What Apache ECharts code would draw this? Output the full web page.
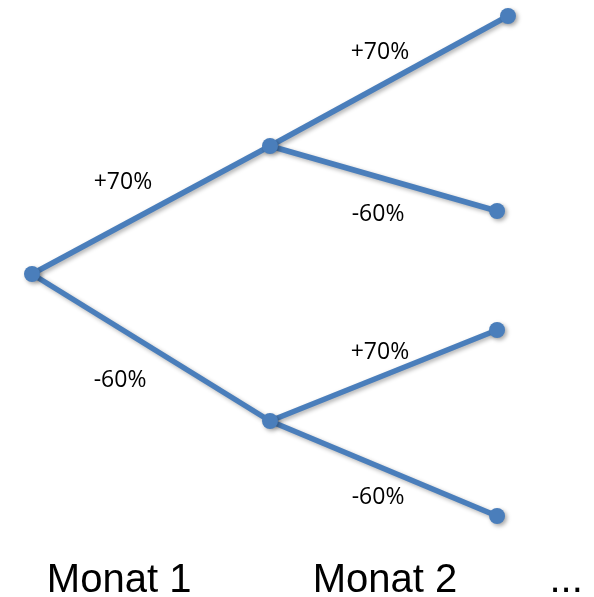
<!DOCTYPE html>
<html>
<head>
<meta charset="utf-8">
<script src="https://cdn.jsdelivr.net/npm/echarts@6/dist/echarts.min.js"></script>
<style>
  html, body { margin: 0; padding: 0; background: #fff; }
  #chart { width: 594px; height: 597px; }
</style>
</head>
<body>
<div id="chart"></div>
<script>
// tree nodes: [step, level]
const nodeNames = ['root', 'up', 'down', 'upup', 'updown', 'downup', 'downdown'];
const nodeSteps = [0, 1, 1, 2, 1.954, 1.954, 1.954];
const nodeLevels = [0, 1.28, -1.47, 2.58, 0.63, -0.56, -2.42];
const links = [['root', 'up'], ['root', 'down'], ['up', 'upup'], ['up', 'updown'], ['down', 'downup'], ['down', 'downdown']];

// branch labels
const branchTexts = ['+70%', '-60%', '+70%', '-60%', '+70%', '-60%'];
const branchSteps = [0.382, 0.37, 1.462, 1.454, 1.462, 1.454];
const branchLevels = [0.92, -1.06, 2.22, 0.60, -0.78, -2.23];

// bottom captions
const captions = ['Monat 1', 'Monat 2', '...'];
const captionSteps = [0.366, 1.483, 2.244];
const captionLevel = -3.07;

const blue = '#4a7ebb';

const chart = echarts.init(document.getElementById('chart'), null, { renderer: 'canvas' });

const textSeries = (texts, points, font, size) => ({
  type: 'scatter',
  symbolSize: 0,
  clip: false,
  silent: true,
  itemStyle: { color: '#000', opacity: 1 },
  label: {
    show: true,
    position: 'inside',
    formatter: p => texts[p.dataIndex],
    color: '#000',
    opacity: 1,
    textBorderWidth: 0,
    fontFamily: font,
    fontSize: size
  },
  data: points
});

chart.setOption({
  animation: false,
  grid: { left: 32, right: 86, top: 16, bottom: 81 },
  xAxis: { type: 'value', min: 0, max: 2, show: false },
  yAxis: { type: 'value', min: -2.42, max: 2.58, show: false },
  series: [
    {
      type: 'graph',
      coordinateSystem: 'cartesian2d',
      symbol: 'circle',
      symbolSize: 16,
      z: 2,
      itemStyle: {
        color: blue,
        shadowColor: 'rgba(0,0,0,0.35)',
        shadowBlur: 4,
        shadowOffsetX: 2,
        shadowOffsetY: 2
      },
      lineStyle: {
        color: blue,
        width: 5.5,
        opacity: 1,
        shadowColor: 'rgba(0,0,0,0.3)',
        shadowBlur: 4,
        shadowOffsetX: 2,
        shadowOffsetY: 2
      },
      label: { show: false },
      data: nodeNames.map((n, i) => ({ name: n, value: [nodeSteps[i], nodeLevels[i]] })),
      links: links.map(l => ({ source: l[0], target: l[1] }))
    },
    textSeries(branchTexts, branchSteps.map((x, i) => [x, branchLevels[i]]), 'Open Sans', 23),
    textSeries(captions, captionSteps.map(x => [x, captionLevel]), 'Liberation Sans', 40)
  ]
});
</script>
</body>
</html>
